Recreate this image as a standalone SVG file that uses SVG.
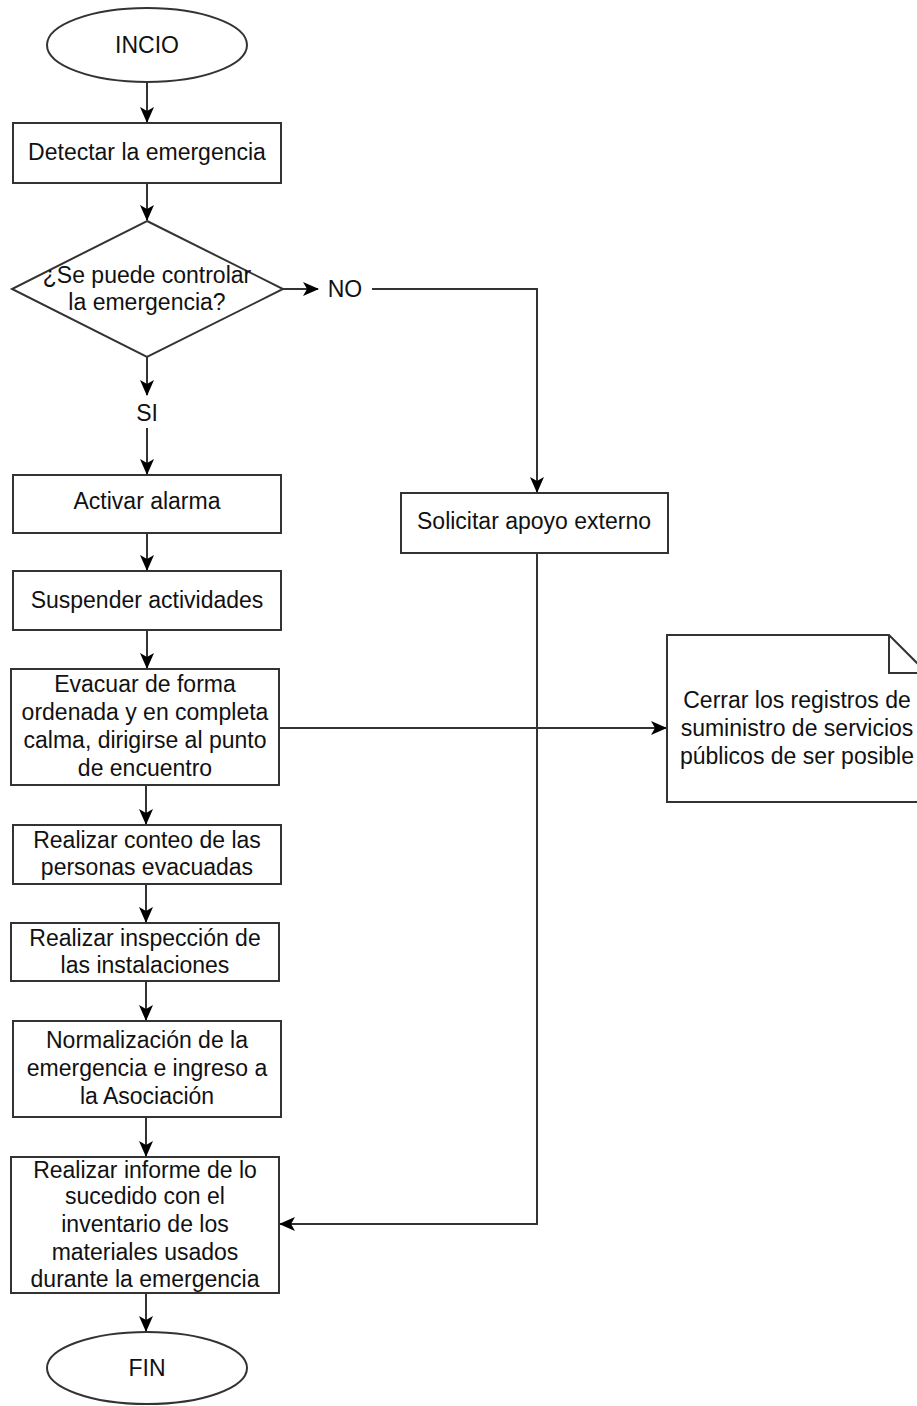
<svg xmlns="http://www.w3.org/2000/svg" width="917" height="1406" viewBox="0 0 917 1406">
<defs>
<marker id="arr" viewBox="0 0 16 14" refX="15" refY="7" markerWidth="16" markerHeight="14" markerUnits="userSpaceOnUse" orient="auto">
<path d="M0,0 L16,7 L0,14 L4,7 Z" fill="#000"/>
</marker>
<style>
.s{fill:#fff;stroke:#333;stroke-width:2}
.c{fill:none;stroke:#333;stroke-width:2}
.t{font-family:"Liberation Sans",Arial,sans-serif;font-size:23px;fill:#111;text-anchor:middle}
</style>
</defs>
<rect width="917" height="1406" fill="#fff"/>
<g id="connectors">
<path class="c" d="M147,82 V122" marker-end="url(#arr)"/>
<path class="c" d="M147,183 V220" marker-end="url(#arr)"/>
<path class="c" d="M283,289 H318" marker-end="url(#arr)"/>
<path class="c" d="M372,289 H537 V492" marker-end="url(#arr)"/>
<path class="c" d="M147,357 V395" marker-end="url(#arr)"/>
<path class="c" d="M147,428 V474" marker-end="url(#arr)"/>
<path class="c" d="M147,533 V570" marker-end="url(#arr)"/>
<path class="c" d="M147,630 V668" marker-end="url(#arr)"/>
<path class="c" d="M279,728 H666" marker-end="url(#arr)"/>
<path class="c" d="M146,785 V824" marker-end="url(#arr)"/>
<path class="c" d="M146,884 V922" marker-end="url(#arr)"/>
<path class="c" d="M146,981 V1020" marker-end="url(#arr)"/>
<path class="c" d="M146,1117 V1156" marker-end="url(#arr)"/>
<path class="c" d="M537,553 V1224 H280" marker-end="url(#arr)"/>
<path class="c" d="M146,1293 V1331" marker-end="url(#arr)"/>
<text class="t" x="345" y="297">NO</text>
<text class="t" x="147" y="421">SI</text>
</g>
<g id="inicio">
<ellipse class="s" cx="147" cy="45" rx="100" ry="37"/>
<text class="t" x="147" y="53">INCIO</text>
</g>
<g id="detectar">
<rect class="s" x="13" y="123" width="268" height="60"/>
<text class="t" x="147" y="160">Detectar la emergencia</text>
</g>
<g id="decision">
<polygon class="s" points="147,221 283,289 147,357 12,289"/>
<text class="t" x="147" y="283">¿Se puede controlar</text>
<text class="t" x="147" y="310">la emergencia?</text>
</g>
<g id="solicitar">
<rect class="s" x="401" y="493" width="267" height="60"/>
<text class="t" x="534" y="529">Solicitar apoyo externo</text>
</g>
<g id="activar">
<rect class="s" x="13" y="475" width="268" height="58"/>
<text class="t" x="147" y="509">Activar alarma</text>
</g>
<g id="suspender">
<rect class="s" x="13" y="571" width="268" height="59"/>
<text class="t" x="147" y="608">Suspender actividades</text>
</g>
<g id="evacuar">
<rect class="s" x="11" y="669" width="268" height="116"/>
<text class="t" x="145" y="692">Evacuar de forma</text>
<text class="t" x="145" y="720">ordenada y en completa</text>
<text class="t" x="145" y="748">calma, dirigirse al punto</text>
<text class="t" x="145" y="776">de encuentro</text>
</g>
<g id="nota">
<path class="s" d="M667,635 H889 L927,673 V802 H667 Z"/>
<path class="c" d="M889,635 V673 H927"/>
<text class="t" x="797" y="708">Cerrar los registros de</text>
<text class="t" x="797" y="736">suministro de servicios</text>
<text class="t" x="797" y="764">públicos de ser posible</text>
</g>
<g id="conteo">
<rect class="s" x="13" y="825" width="268" height="59"/>
<text class="t" x="147" y="848">Realizar conteo de las</text>
<text class="t" x="147" y="875">personas evacuadas</text>
</g>
<g id="inspeccion">
<rect class="s" x="11" y="923" width="268" height="58"/>
<text class="t" x="145" y="946">Realizar inspección de</text>
<text class="t" x="145" y="973">las instalaciones</text>
</g>
<g id="normalizacion">
<rect class="s" x="13" y="1021" width="268" height="96"/>
<text class="t" x="147" y="1048">Normalización de la</text>
<text class="t" x="147" y="1076">emergencia e ingreso a</text>
<text class="t" x="147" y="1104">la Asociación</text>
</g>
<g id="informe">
<rect class="s" x="11" y="1157" width="268" height="136"/>
<text class="t" x="145" y="1178">Realizar informe de lo</text>
<text class="t" x="145" y="1204">sucedido con el</text>
<text class="t" x="145" y="1232">inventario de los</text>
<text class="t" x="145" y="1260">materiales usados</text>
<text class="t" x="145" y="1287">durante la emergencia</text>
</g>
<g id="fin">
<ellipse class="s" cx="147" cy="1368" rx="100" ry="36"/>
<text class="t" x="147" y="1376">FIN</text>
</g>
</svg>
